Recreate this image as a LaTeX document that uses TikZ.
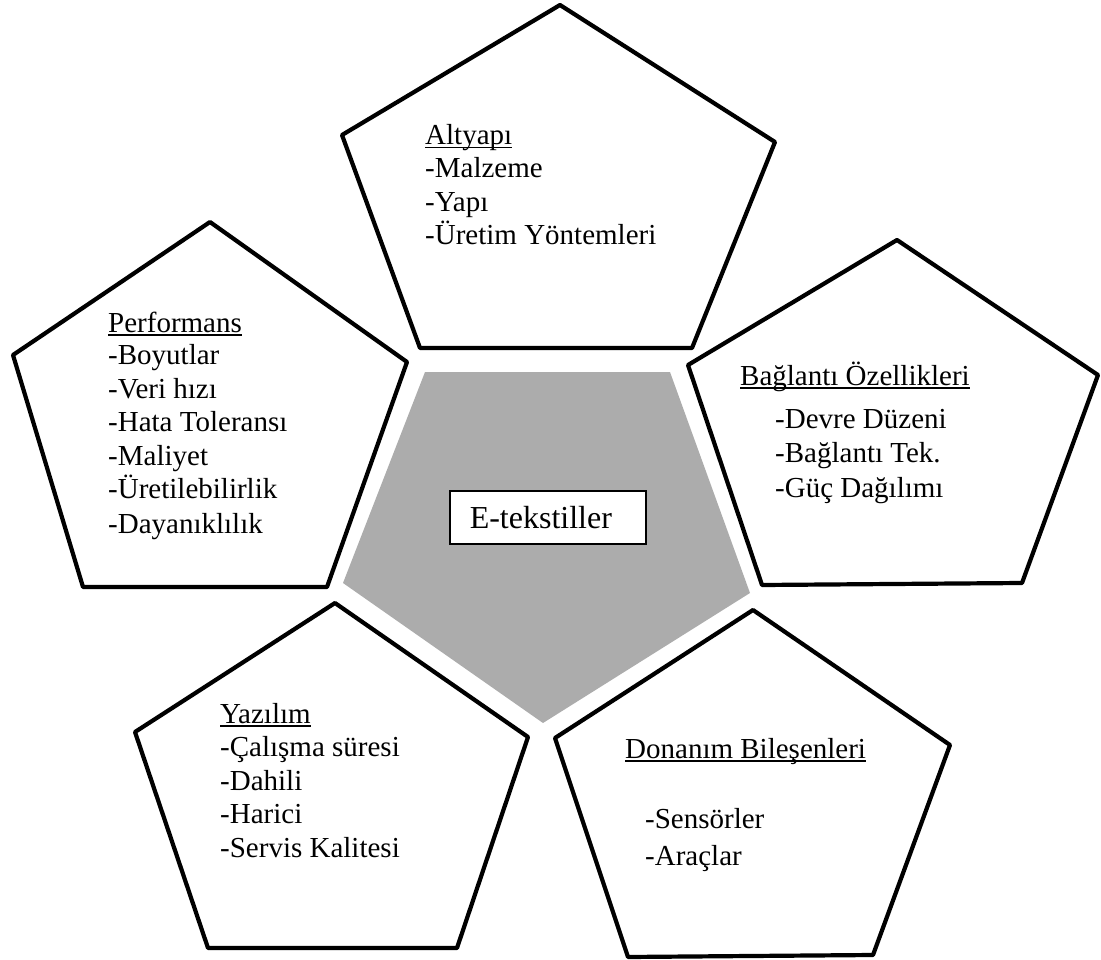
\documentclass[tikz,border=0pt]{standalone}
\usepackage{fontspec}
\setmainfont{Liberation Serif}
\definecolor{coregray}{RGB}{172,172,172}
\newcommand\myul[1]{\setbox0\hbox{#1}\rlap{\rule[-3.5pt]{\wd0}{1.6pt}}\box0}
\begin{document}
\begin{tikzpicture}[x=1pt,y=-1pt,
  pent/.style={draw=black, line width=4.2pt, line join=round, fill=white},
  core/.style={fill=coregray, draw=none},
  txt/.style={anchor=base west, inner sep=0pt, font=\fontsize{29}{33}\selectfont},
  etbox/.style={draw=black, line width=1.5pt, fill=white, anchor=north west,
    minimum width=196pt, minimum height=53pt, text width=156pt, align=left,
    inner xsep=20pt, inner ysep=0pt, font=\fontsize{32}{36}\selectfont}]
\useasboundingbox (0,0) rectangle (1101,960);
% pentagons
\draw[pent] (560,5) -- (775,142) -- (692,348) -- (420,348) -- (342,135) -- cycle;
\draw[pent] (210,222) -- (407,362) -- (327,587) -- (83,587) -- (13,355) -- cycle;
\draw[pent] (897,240) -- (1098,375) -- (1022,583) -- (762,585) -- (688,365) -- cycle;
\draw[pent] (335,603) -- (528,737) -- (457,948) -- (208,948) -- (135,732) -- cycle;
\draw[pent] (753,610) -- (950,745) -- (873,955) -- (628,957) -- (555,738) -- cycle;
% core
\fill[core] (425,372) -- (670,372) -- (750,593) -- (543,723) -- (343,583) -- cycle;
\node[etbox] (et) at (449,490) {E-tekstiller};
% Altyapi
\node[txt] (a0) at (425,145) {\myul{Altyapı}};
\node[txt] (a1) at (425,178) {-Malzeme};
\node[txt] (a2) at (425,212) {-Yapı};
\node[txt] (a3) at (425,245) {-Üretim Yöntemleri};
% Performans
\node[txt] (p0) at (108,332) {\myul{Performans}};
\node[txt] (p1) at (108,364) {-Boyutlar};
\node[txt] (p2) at (108,398) {-Veri hızı};
\node[txt] (p3) at (108,431) {-Hata Toleransı};
\node[txt] (p4) at (108,465) {-Maliyet};
\node[txt] (p5) at (108,498) {-Üretilebilirlik};
\node[txt] (p6) at (108,533) {-Dayanıklılık};
% Baglanti
\node[txt] (b0) at (740,385) {\myul{Bağlantı Özellikleri}};
\node[txt] (b1) at (775,428) {-Devre Düzeni};
\node[txt] (b2) at (775,462) {-Bağlantı Tek.};
\node[txt] (b3) at (775,497) {-Güç Dağılımı};
% Yazilim
\node[txt] (y0) at (220,723) {\myul{Yazılım}};
\node[txt] (y1) at (220,756) {-Çalışma süresi};
\node[txt] (y2) at (220,790) {-Dahili};
\node[txt] (y3) at (220,823) {-Harici};
\node[txt] (y4) at (220,857) {-Servis Kalitesi};
% Donanim
\node[txt] (d0) at (625,758) {\myul{Donanım Bileşenleri}};
\node[txt] (d1) at (645,828) {-Sensörler};
\node[txt] (d2) at (645,865) {-Araçlar};
\end{tikzpicture}
\end{document}
